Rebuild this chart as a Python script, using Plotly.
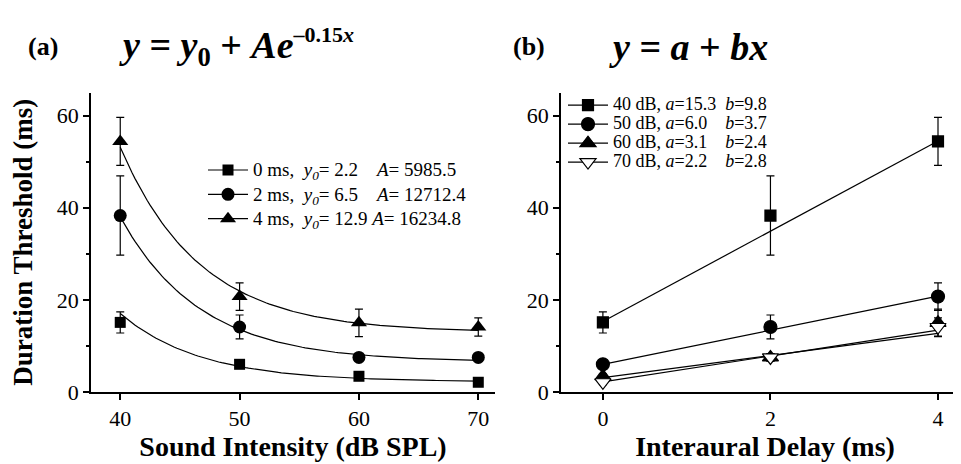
import numpy as np
import plotly.graph_objects as go

# ---------------- data ----------------
intensities = [40, 50, 60, 70]          # dB SPL
delays = [0, 2, 4]                        # ms
delay_labels = ["0 ms", "2 ms", "4 ms"]
intensity_labels = ["40 dB", "50 dB", "60 dB", "70 dB"]

# mean duration threshold (ms) for each delay, across intensities
thr_d0 = [15.1, 6.0, 3.4, 2.1]
thr_d2 = [38.3, 14.1, 7.5, 7.5]
thr_d4 = [54.4, 20.7, 15.0, 14.1]
# error bars
err_d0 = [2.3, 0.7, 0.5, 0.5]
err_d2 = [8.6, 2.6, 0.8, 0.8]
err_d4 = [5.2, 3.0, 3.0, 2.0]

# exponential fit parameters (panel a): y = y0 + A exp(-0.15 x)
fit_y0 = [2.2, 6.5, 12.9]
fit_A = [5985.5, 12712.4, 16234.8]
fit_k = 0.15
# linear fit parameters (panel b): y = a + b x
fit_a = [15.3, 6.0, 3.1, 2.2]
fit_b = [9.8, 3.7, 2.4, 2.8]

y_ticks = [0, 20, 40, 60]
xa_ticks = [40, 50, 60, 70]
xb_ticks = [0, 2, 4]

# ---------------- style ----------------
FONT = "Liberation Serif"
W, H = 961, 464
thr = [thr_d0, thr_d2, thr_d4]
err = [err_d0, err_d2, err_d4]

sym_a = ["square", "circle", "triangle-up"]
size_a = [11, 13, 14]
sym_b = ["square", "circle", "triangle-up", "triangle-down"]
size_b = [11, 13, 14, 14]
fill_b = ["black", "black", "black", "white"]

NB = "\u00a0"
leg_a_text = [
    delay_labels[0] + "," + NB * 2 + "<i>y<sub>0</sub></i>=" + NB + "2.2" + NB * 4 + "<i>A</i>=" + NB + "5985.5",
    delay_labels[1] + "," + NB * 2 + "<i>y<sub>0</sub></i>=" + NB + "6.5" + NB * 4 + "<i>A</i>=" + NB + "12712.4",
    delay_labels[2] + "," + NB * 2 + "<i>y<sub>0</sub></i>=" + NB + "12.9" + NB + "<i>A</i>=" + NB + "16234.8",
]
leg_b_text = [
    intensity_labels[0] + ", <i>a</i>=15.3" + NB * 2 + "<i>b</i>=9.8",
    intensity_labels[1] + ", <i>a</i>=6.0" + NB * 4 + "<i>b</i>=3.7",
    intensity_labels[2] + ", <i>a</i>=3.1" + NB * 4 + "<i>b</i>=2.4",
    intensity_labels[3] + ", <i>a</i>=2.2" + NB * 4 + "<i>b</i>=2.8",
]


def sized(txt, px):
    return "<span style='font-size:%dpx'>%s</span>" % (px, txt)


fig = go.Figure()

# ---------------- panel (a) ----------------
for i in range(3):
    xf = np.linspace(intensities[0], intensities[-1], 121)
    yf = fit_y0[i] + fit_A[i] * np.exp(-fit_k * xf)
    fig.add_trace(go.Scatter(x=xf, y=yf, mode="lines", line=dict(color="black", width=1.2),
                             showlegend=False, hoverinfo="skip", xaxis="x", yaxis="y"))
for i in range(3):
    fig.add_trace(go.Scatter(
        x=intensities, y=thr[i], mode="markers",
        marker=dict(symbol=sym_a[i], size=size_a[i], color="black"),
        error_y=dict(type="data", array=err[i], color="black", thickness=1.2, width=4),
        showlegend=False, xaxis="x", yaxis="y"))
    fig.add_trace(go.Scatter(
        x=[None], y=[None], mode="lines+markers",
        line=dict(color="black", width=1.2),
        marker=dict(symbol=sym_a[i], size=size_a[i], color="black"),
        name=sized(leg_a_text[i], 19), legend="legend", xaxis="x", yaxis="y"))

# ---------------- panel (b) ----------------
for j in range(4):
    xl = [delays[0], delays[-1]]
    yl = [fit_a[j] + fit_b[j] * v for v in xl]
    fig.add_trace(go.Scatter(x=xl, y=yl, mode="lines", line=dict(color="black", width=1.2),
                             showlegend=False, hoverinfo="skip", xaxis="x2", yaxis="y2"))
for j in range(4):
    yv = [thr[d][j] for d in range(3)]
    ev = [err[d][j] for d in range(3)]
    fig.add_trace(go.Scatter(
        x=delays, y=yv, mode="markers",
        marker=dict(symbol=sym_b[j], size=size_b[j], color=fill_b[j],
                    line=dict(color="black", width=1.2)),
        error_y=dict(type="data", array=ev, color="black", thickness=1.2, width=4),
        showlegend=False, xaxis="x2", yaxis="y2"))
    fig.add_trace(go.Scatter(
        x=[None], y=[None], mode="lines+markers",
        line=dict(color="black", width=1.2),
        marker=dict(symbol=sym_b[j], size=size_b[j], color=fill_b[j],
                    line=dict(color="black", width=1.2)),
        name=sized(leg_b_text[j], 18), legend="legend2", xaxis="x2", yaxis="y2"))

# ---------------- axes ----------------
ydom = [1 - 395 / H, 1 - 87 / H]
common_ax = dict(showline=True, linecolor="black", linewidth=1.5, showgrid=False,
                 zeroline=False, ticks="outside", ticklen=6, tickwidth=1.5,
                 tickcolor="black", tickfont=dict(family=FONT, size=22, color="black"),
                 mirror=False)

fig.update_layout(
    xaxis=dict(**common_ax, domain=[83 / W, 487 / W], range=[37.55, 71.4],
               tickvals=xa_ticks, anchor="y",
               title=dict(text="<b>Sound Intensity (dB SPL)</b>", standoff=4,
                          font=dict(family=FONT, size=28, color="black"))),
    yaxis=dict(**common_ax, domain=ydom, range=[0, 65], tickvals=y_ticks, anchor="x",
               minor=dict(tickvals=[10, 30, 50], ticklen=3.5, tickwidth=1.5,
                          tickcolor="black", ticks="outside"),
               title=dict(text="<b>Duration Threshold (ms)</b>", standoff=16,
                          font=dict(family=FONT, size=27, color="black"))),
    xaxis2=dict(**common_ax, domain=[553 / W, 1.0], range=[-0.5, 4.37],
                tickvals=xb_ticks, anchor="y2",
                title=dict(text="<b>Interaural Delay (ms)</b>", standoff=4,
                           font=dict(family=FONT, size=28, color="black"))),
    yaxis2=dict(**common_ax, domain=ydom, range=[0, 65], tickvals=y_ticks, anchor="x2",
                minor=dict(tickvals=[10, 30, 50], ticklen=3.5, tickwidth=1.5,
                           tickcolor="black", ticks="outside")),
)

# ---------------- legends ----------------
fig.update_layout(
    legend=dict(x=195 / W, y=1 - 149 / H, xanchor="left", yanchor="top",
                bgcolor="rgba(0,0,0,0)", borderwidth=0, itemwidth=40,
                font=dict(family=FONT, size=16.4, color="black"),
                tracegroupgap=0, itemclick=False, itemdoubleclick=False),
    legend2=dict(x=555 / W, y=1 - 85 / H, xanchor="left", yanchor="top",
                 bgcolor="rgba(0,0,0,0)", borderwidth=0, itemwidth=40,
                 font=dict(family=FONT, size=11.5, color="black"),
                 tracegroupgap=0, itemclick=False, itemdoubleclick=False),
)

# ---------------- panel titles ----------------
ann = [
    dict(text="<b>(a)</b>", x=35 / W, y=1 - 40 / H, font=dict(size=26)),
    dict(text="<b><i>y</i> = <i>y</i><sub>0</sub> + <i>Ae</i><sup>" + sized("\u20130.15<i>x</i>", 22) + "</sup></b>",
         x=228 / W, y=1 - 40 / H, font=dict(size=38)),
    dict(text="<b>(b)</b>", x=521 / W, y=1 - 40 / H, font=dict(size=26)),
    dict(text="<b><i>y</i> = <i>a</i> + <i>bx</i></b>", x=680 / W, y=1 - 40 / H,
         font=dict(size=38)),
]
for a in ann:
    a["font"].update(family=FONT, color="black")
    fig.add_annotation(xref="paper", yref="paper", showarrow=False,
                       xanchor="center", yanchor="middle", **a)

fig.update_layout(
    width=W, height=H, margin=dict(l=0, r=0, t=0, b=0),
    paper_bgcolor="white", plot_bgcolor="white",
    font=dict(family=FONT, color="black"),
    hovermode=False,
)

fig.write_html("out.html")
